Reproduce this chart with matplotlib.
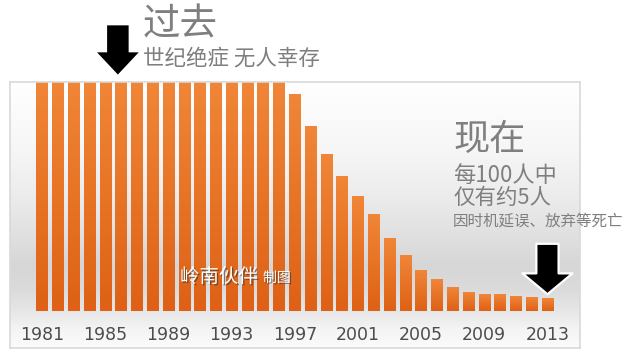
import numpy as np
import matplotlib
matplotlib.use("Agg")
import matplotlib.pyplot as plt
import matplotlib.patheffects as path_effects
from matplotlib.colors import LinearSegmentedColormap

plt.rcParams['font.family'] = ['Noto Sans CJK SC', 'DejaVu Sans']

# deaths per 100 patients, by year (first years: nobody survived)
years = list(range(1981, 2014))
deaths = [100] * 16 + [90, 77, 65, 56, 47.5, 40, 30, 23, 17, 13, 9.6,
                       7.6, 7.0, 6.7, 6.2, 5.8, 5.0]
tick_years = years[::4]

fig = plt.figure(figsize=(6.27, 3.58), dpi=100)
fig.patch.set_facecolor('white')
ax = fig.add_axes([10 / 627, 10 / 358, 570 / 627, 266 / 358])

xlim = (1981 - 2.03, 2015.06)
ylim = (-15.4, 95.4)

# panel background, white -> grey band -> white
bg = LinearSegmentedColormap.from_list('bg', [
    (0.0, '#fbfbfb'), (0.07, '#f4f4f4'), (0.14, '#e6e6e6'),
    (0.22, '#dbdbdb'), (0.31, '#d6d6d6'), (0.41, '#dfdfdf'),
    (0.56, '#ebebeb'), (0.74, '#f6f6f6'), (1.0, '#ffffff')])
ax.imshow(np.linspace(1, 0, 256).reshape(-1, 1), cmap=bg, aspect='auto',
          extent=[0, 1, 0, 1], transform=ax.transAxes, zorder=0)

# bars with vertical orange gradient
orange = LinearSegmentedColormap.from_list('or', ['#de6115', '#f08638'])
bars = ax.bar(years, deaths, width=0.72, color='none', zorder=2)
grad = np.linspace(1, 0, 100).reshape(-1, 1)
for b in bars:
    x0, w, h = b.get_x(), b.get_width(), b.get_height()
    top = min(h, ylim[1])
    ax.imshow(grad, cmap=orange, aspect='auto',
              extent=[x0, x0 + w, 0, top], zorder=2)

ax.set_xlim(*xlim)
ax.set_ylim(*ylim)
ax.set_xticks([])
ax.set_yticks([])
for s in ax.spines.values():
    s.set_color('#d9d9d9')
    s.set_linewidth(1.2)

for yr in tick_years:
    ax.text(yr, -10, str(yr), ha='center', va='center', fontsize=12.5,
            color='#4d4d4d', family='DejaVu Sans', zorder=3)

# arrows
ax.annotate('', xy=(1985.8, 98.5), xytext=(1985.8, 119),
            annotation_clip=False,
            arrowprops=dict(width=15.5, headwidth=30, headlength=16,
                            facecolor='black', edgecolor='black', lw=0))
ax.annotate('', xy=(2013, deaths[-1] + 2), xytext=(2013, deaths[-1] + 23),
            arrowprops=dict(width=16, headwidth=36, headlength=15,
                            facecolor='black', edgecolor='white', lw=1.6),
            zorder=4)

grey = '#7f7f7f'
fig.text(143 / 627, 1 - 25 / 358, '过去', fontsize=27, color=grey,
         va='center', ha='left')
fig.text(143 / 627, 1 - 59 / 358, '世纪绝症 无人幸存', fontsize=15.5,
         color=grey, va='center', ha='left')
fig.text(453 / 627, 1 - 140 / 358, '现在', fontsize=26, color=grey,
         va='center', ha='left')
fig.text(453 / 627, 1 - 175 / 358, '每100人中', fontsize=16, color=grey,
         va='center', ha='left')
fig.text(453 / 627, 1 - 198 / 358, '仅有约5人', fontsize=15.5, color=grey,
         va='center', ha='left')
fig.text(453 / 627, 1 - 221 / 358, '因时机延误、放弃等死亡', fontsize=11.2,
         color=grey, va='center', ha='left')

shadow = [path_effects.withSimplePatchShadow(offset=(1, -1),
                                             shadow_rgbFace='#333333',
                                             alpha=0.6)]
t1 = fig.text(180 / 627, 1 - 277 / 358, '岭南伙伴', fontsize=14,
              color='white', va='center', ha='left', zorder=5)
t1.set_path_effects(shadow)
t2 = fig.text(263 / 627, 1 - 278 / 358, '制图', fontsize=10,
              color='white', va='center', ha='left', zorder=5)
t2.set_path_effects(shadow)

fig.savefig('out.png', dpi=100)
